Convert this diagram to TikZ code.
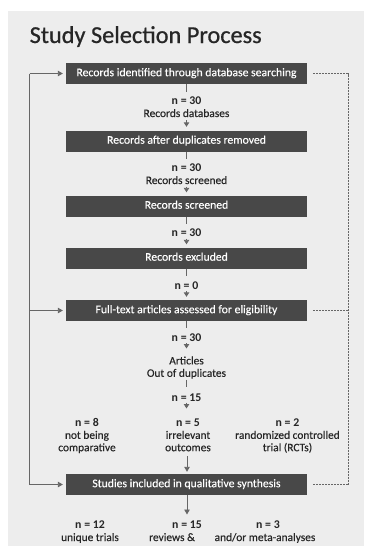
\documentclass[tikz,border=0pt]{standalone}
\usepackage{fontspec}
\setmainfont{Carlito}
\newfontfamily\titlefont[FakeBold=0.7]{Carlito}
\newfontfamily\medfont[FakeBold=0.25]{Carlito}
\usetikzlibrary{arrows.meta}
\definecolor{panel}{HTML}{EDEDED}
\definecolor{boxfill}{HTML}{484848}
\definecolor{ink}{HTML}{262626}
\definecolor{wire}{HTML}{666666}
\begin{document}
\begin{tikzpicture}[x=1pt,y=-1pt,
  stepbox/.style={fill=boxfill,text=white,minimum width=241pt,minimum height=21pt,inner sep=0pt,
    text height=7.8pt,text depth=2.4pt,font=\medfont\fontsize{11.7}{13}\selectfont},
  num/.style={font=\bfseries\fontsize{11.8}{13}\selectfont,text=ink,inner sep=0pt,anchor=base},
  lab/.style={font=\medfont\fontsize{11.4}{12.4}\selectfont,text=ink,inner sep=0pt,anchor=base,align=center},
  stub/.style={draw=wire,line width=0.9pt},
  tri/.style={draw=wire,line width=0.9pt,-{Triangle[width=5.5pt,length=4.5pt]}},
  arr/.style={draw=wire,line width=0.9pt,-{Triangle[width=5.5pt,length=5pt]}},
  fb/.style={draw=wire,line width=0.9pt},
  dsh/.style={draw=wire,line width=0.9pt,dash pattern=on 2pt off 1pt}]
\useasboundingbox (0,0) rectangle (364,546);
\fill[white] (0,0) rectangle (364,546);
\fill[panel] (8,11) rectangle (364,546);

\node[anchor=base west,inner sep=0pt,text=ink,font=\titlefont\fontsize{24.3}{28}\selectfont] (title) at (29.5,43) {Study Selection Process};

% boxes
\node[stepbox] (B1) at (186.5,73.5) {Records identified through database searching};
\node[stepbox] (B2) at (186.5,141) {Records after duplicates removed};
\node[stepbox] (B3) at (186.5,206) {Records screened};
\node[stepbox] (B4) at (186.5,258) {Records excluded};
\node[stepbox] (B5) at (186.5,310.5) {Full-text articles assessed for eligibility};
\node[stepbox] (B6) at (186.5,484.5) {Studies included in qualitative synthesis};

% labels (multi-line nodes: base = last line)
\node[num] (n1) at (186.5,104) {n = 30};
\node[lab] (l1) at (186.5,117) {Records databases};
\node[num] (n2) at (186.5,171) {n = 30};
\node[lab] (l2) at (186.5,184) {Records screened};
\node[num] (n3) at (186.5,236) {n = 30};
\node[num] (n4) at (186.5,289) {n = 0};
\node[num] (n5) at (186.5,341) {n = 30};
\node[lab] (l5) at (186.5,376.8) {Articles\\Out of duplicates};
\node[num] (n6) at (186.5,401) {n = 15};

\node[num] (c1) at (87,426) {n = 8};
\node[lab] (c1t) at (87,451.2) {not being\\comparative};
\node[num] (c2) at (188,426) {n = 5};
\node[lab] (c2t) at (188,451.2) {irrelevant\\outcomes};
\node[num] (c3) at (287.5,426) {n = 2};
\node[lab] (c3t) at (287.5,451.2) {randomized controlled\\trial (RCTs)};

\node[num] (d1) at (90,528) {n = 12};
\node[lab] (d1t) at (90,541) {unique trials};
\node[num] (d2) at (187,528) {n = 15};
\node[lab] (d2t) at (172,541) {reviews \&};
\node[num] (d3) at (268,528) {n = 3};
\node[lab] (d3t) at (265,541) {and/or meta-analyses};

% stubs and triangles
\coordinate (s1) at (186.5,92);
\coordinate (t1) at (186.5,120);
\draw[stub] (B1.south) -- (s1);
\draw[tri,shorten >=3.5pt] (t1) -- (B2.north);
\coordinate (s2) at (186.5,158.5);
\coordinate (t2) at (186.5,186.5);
\draw[stub] (B2.south) -- (s2);
\draw[tri,shorten >=3pt] (t2) -- (B3.north);
\coordinate (s3) at (186.5,223.5);
\coordinate (t3) at (186.5,238.5);
\draw[stub] (B3.south) -- (s3);
\draw[tri,shorten >=3pt] (t3) -- (B4.north);
\coordinate (s4) at (186.5,276);
\coordinate (t4) at (186.5,291);
\draw[stub] (B4.south) -- (s4);
\draw[tri,shorten >=3pt] (t4) -- (B5.north);
\coordinate (s5) at (186.5,327.5);
\coordinate (t5) at (186.5,343);
\coordinate (t5e) at (186.5,348.5);
\draw[stub] (B5.south) -- (s5);
\draw[tri] (t5) -- (t5e);
\coordinate (s6a) at (186.5,379.5);
\coordinate (s6b) at (186.5,386.5);
\draw[stub] (s6a) -- (s6b);
\coordinate (t6) at (186.5,402.5);
\coordinate (t6e) at (186.5,408.5);
\draw[tri] (t6) -- (t6e);

% arrows to and from studies
\coordinate (a1) at (187,456);
\draw[arr,shorten >=2pt] (a1) -- (B6.north -| a1);
\coordinate (a2) at (187,514.5);
\draw[arr] (B6.south -| a2) -- (a2);

% left feedback line
\coordinate (L1) at (29.5,73.5);
\coordinate (L2) at (29.5,484.5);
\draw[fb] (L1) -- (L2);
\draw[arr,shorten >=3pt] (L1) -- (B1.west);
\draw[arr,shorten >=3pt] (L1 |- B5.west) -- (B5.west);
\draw[arr,shorten >=3pt] (L2) -- (B6.west);

% right dashed line
\coordinate (R1) at (348,73.5);
\coordinate (R2) at (348,484.5);
\draw[dsh,shorten <=6pt] (B1.east) -- (R1) -- (R2);
\draw[dsh,shorten <=6pt] (B5.east) -- (R1 |- B5.east);
\draw[dsh,shorten <=6pt] (B6.east) -- (R2);
\end{tikzpicture}
\end{document}
